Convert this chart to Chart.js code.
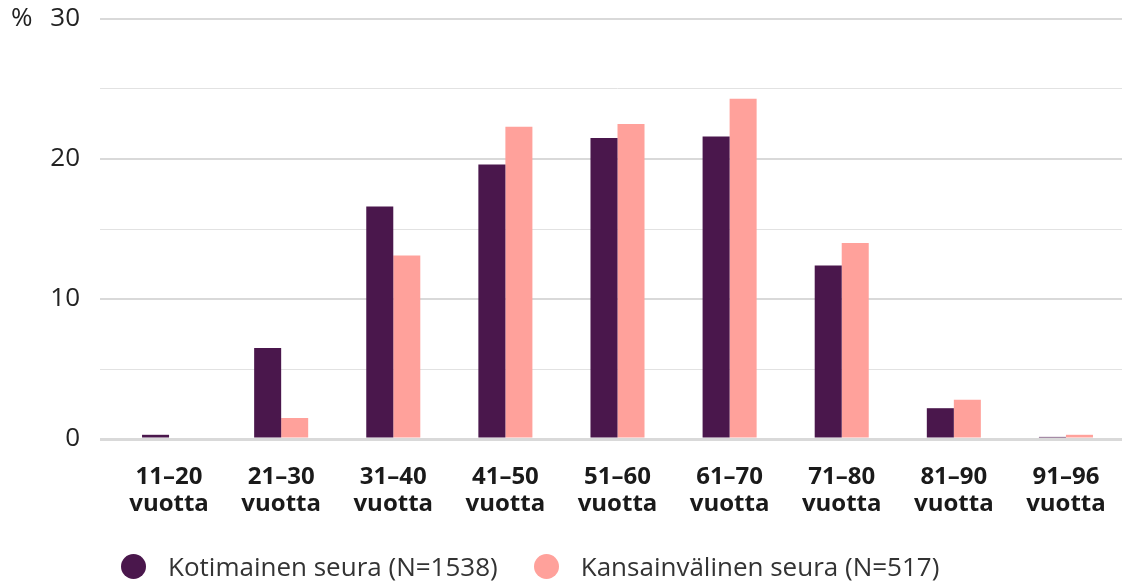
<!DOCTYPE html>
<html>
<head>
<meta charset="utf-8">
<script src="https://cdn.jsdelivr.net/npm/chart.js@4"></script>
<style>
  body { margin: 0; background: #fff; }
  #wrap { position: relative; width: 1134px; height: 583px; }
  #legend { position: absolute; left: 121px; top: 548px; display: flex; align-items: center; font-family: "Open Sans", sans-serif; font-size: 26px; color: #333; }
  #legend .item { display: flex; align-items: center; margin-right: 36px; }
  #legend .dot { width: 25px; height: 25px; border-radius: 50%; margin-right: 22px; }
</style>
</head>
<body>
<div id="wrap">
  <canvas id="chart" width="1134" height="583"></canvas>
  <div id="legend"></div>
</div>
<script>
const categories = [
  ['11–20', 'vuotta'], ['21–30', 'vuotta'], ['31–40', 'vuotta'],
  ['41–50', 'vuotta'], ['51–60', 'vuotta'], ['61–70', 'vuotta'],
  ['71–80', 'vuotta'], ['81–90', 'vuotta'], ['91–96', 'vuotta']
];
const kotimainen = [0.3, 6.5, 16.6, 19.6, 21.5, 21.6, 12.4, 2.2, 0.15];
const kansainvalinen = [0, 1.5, 13.1, 22.3, 22.5, 24.3, 14.0, 2.8, 0.3];
const seriesNames = ['Kotimainen seura (N=1538)', 'Kansainvälinen seura (N=517)'];
const seriesColors = ['#4a174c', '#ffa19b'];

const font = '"Open Sans", sans-serif';

// draws the "%" unit next to the top tick
const unitLabel = {
  id: 'unitLabel',
  afterDraw(chart) {
    const ctx = chart.ctx;
    const y = chart.scales.y.getPixelForValue(30);
    ctx.save();
    ctx.font = '26px ' + font;
    ctx.fillStyle = '#222';
    ctx.textBaseline = 'middle';
    ctx.textAlign = 'left';
    ctx.fillText('%', 11, y);
    ctx.restore();
  }
};

const chart = new Chart(document.getElementById('chart'), {
  type: 'bar',
  data: {
    labels: categories,
    datasets: [
      { label: seriesNames[0], data: kotimainen, backgroundColor: seriesColors[0] },
      { label: seriesNames[1], data: kansainvalinen, backgroundColor: seriesColors[1] }
    ]
  },
  options: {
    responsive: false,
    animation: false,
    layout: { padding: { top: 19, right: 12, bottom: 57, left: 0 } },
    datasets: { bar: { categoryPercentage: 0.482, barPercentage: 1 } },
    plugins: { legend: { display: false }, tooltip: { enabled: false } },
    scales: {
      x: {
        grid: { display: false, drawTicks: false },
        border: { display: false },
        ticks: { color: '#1a1a1a', padding: 25, maxRotation: 0, autoSkip: false, font: { family: font, size: 24, weight: 'bold', lineHeight: 1.12 } },
        afterFit: s => { s.height = 87; s.paddingLeft = 0; s.paddingRight = 0; }
      },
      y: {
        min: 0, max: 30,
        border: { display: false },
        grid: {
          drawTicks: true,
          tickLength: 13,
          color: c => c.tick.value % 10 === 0 ? '#d9d9d9' : '#e2e2e2',
          lineWidth: c => c.tick.value === 0 ? 3 : (c.tick.value % 10 === 0 ? 2 : 1)
        },
        ticks: {
          stepSize: 5,
          padding: 20,
          color: '#222',
          font: { family: font, size: 26 },
          callback: v => v % 10 === 0 ? String(v) : ''
        },
        afterFit: s => { s.width = 113; s.paddingTop = 0; s.paddingBottom = 0; }
      }
    }
  },
  plugins: [unitLabel]
});

// legend under the chart
const legend = document.getElementById('legend');
seriesNames.forEach((name, i) => {
  const item = document.createElement('div');
  item.className = 'item';
  const dot = document.createElement('span');
  dot.className = 'dot';
  dot.style.background = seriesColors[i];
  const txt = document.createElement('span');
  txt.textContent = name;
  item.appendChild(dot);
  item.appendChild(txt);
  legend.appendChild(item);
});
</script>
</body>
</html>
